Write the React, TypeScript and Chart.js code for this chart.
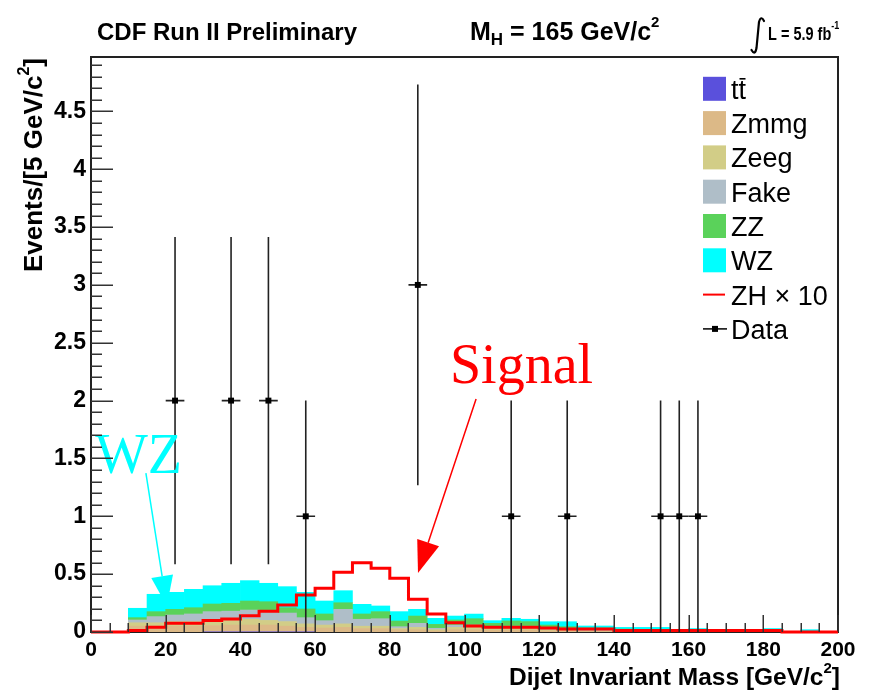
import React, { useEffect, useRef } from "react";
import { Chart, registerables } from "chart.js";

Chart.register(...registerables);

// ---------- data ----------
// centres of the 5 GeV/c^2 bins
const BIN_CENTERS = [
  2.5, 7.5, 12.5, 17.5, 22.5, 27.5, 32.5, 37.5, 42.5, 47.5,
  52.5, 57.5, 62.5, 67.5, 72.5, 77.5, 82.5, 87.5, 92.5, 97.5,
  102.5, 107.5, 112.5, 117.5, 122.5, 127.5, 132.5, 137.5, 142.5, 147.5,
  152.5, 157.5, 162.5, 167.5, 172.5, 177.5, 182.5, 187.5, 192.5, 197.5,
];
// bin edges (for the signal outline)
const BIN_EDGES = [
  0, 5, 10, 15, 20, 25, 30, 35, 40, 45,
  50, 55, 60, 65, 70, 75, 80, 85, 90, 95,
  100, 105, 110, 115, 120, 125, 130, 135, 140, 145,
  150, 155, 160, 165, 170, 175, 180, 185, 190, 195, 200,
];

const TTBAR = [
  0, 0, 0, 0, 0, 0, 0.002, 0.002, 0.002, 0.002,
  0.002, 0.002, 0, 0, 0, 0, 0, 0, 0, 0,
  0, 0, 0, 0, 0, 0, 0, 0, 0, 0,
  0, 0, 0, 0, 0, 0, 0, 0, 0, 0,
];
const ZMMG = [
  0, 0, 0.05, 0.05, 0.05, 0.05, 0.053, 0.058, 0.058, 0.058,
  0.048, 0.038, 0.035, 0.04, 0.03, 0.03, 0.02, 0.02, 0.01, 0.02,
  0.02, 0.015, 0.015, 0.015, 0.01, 0.01, 0.005, 0.005, 0.005, 0.003,
  0.003, 0, 0, 0, 0, 0, 0, 0, 0, 0,
];
const ZEEG = [
  0, 0, 0.03, 0.03, 0.04, 0.04, 0.045, 0.04, 0.05, 0.04,
  0.04, 0.03, 0.025, 0.03, 0.02, 0.02, 0.01, 0.02, 0.01, 0.02,
  0.02, 0.015, 0.015, 0.015, 0.01, 0.01, 0.005, 0.005, 0.005, 0.002,
  0.002, 0, 0, 0, 0, 0, 0, 0, 0, 0,
];
const FAKE = [
  0, 0, 0.024, 0.053, 0.057, 0.066, 0.076, 0.08, 0.08, 0.08,
  0.074, 0.054, 0.038, 0.126, 0.06, 0.065, 0.016, 0.035, 0.012, 0.02,
  0.02, 0.015, 0.02, 0.02, 0.02, 0.01, 0.01, 0.01, 0.005, 0.005,
  0.005, 0, 0.005, 0, 0, 0, 0, 0, 0, 0,
];
const ZZ = [
  0, 0, 0.02, 0.043, 0.049, 0.054, 0.066, 0.068, 0.078, 0.082,
  0.046, 0.075, 0.058, 0.057, 0.046, 0.061, 0.049, 0.063, 0.034, 0.044,
  0.055, 0.03, 0.045, 0.04, 0.02, 0.016, 0.015, 0.015, 0.01, 0.01,
  0.01, 0.005, 0.005, 0, 0, 0, 0.01, 0, 0.005, 0,
];
const WZ = [
  0, 0, 0.081, 0.15, 0.147, 0.159, 0.158, 0.173, 0.176, 0.159,
  0.182, 0.144, 0.112, 0.104, 0.083, 0.049, 0.081, 0.058, 0.052, 0.034,
  0.04, 0.023, 0.023, 0.02, 0.029, 0.043, 0.017, 0.017, 0.015, 0.02,
  0.02, 0.005, 0.02, 0, 0, 0, 0.02, 0, 0.015, 0,
];
const ZH_X10 = [
  0, 0, 0.012, 0.04, 0.075, 0.075, 0.1, 0.112, 0.14, 0.18,
  0.233, 0.32, 0.378, 0.516, 0.599, 0.55, 0.464, 0.283, 0.156, 0.081,
  0.052, 0.04, 0.04, 0.04, 0.035, 0.026, 0.026, 0.026, 0.013, 0.013,
  0.013, 0.013, 0.013, 0.013, 0.013, 0.013, 0.013, 0, 0, 0,
];

const DATA_X = [22.5, 37.5, 47.5, 57.5, 87.5, 112.5, 127.5, 152.5, 157.5, 162.5];
const DATA_Y = [2, 2, 2, 1, 3, 1, 1, 1, 1, 1];
const DATA_ERR = [1.414, 1.414, 1.414, 1, 1.732, 1, 1, 1, 1, 1];

const X_TICKS = [0, 20, 40, 60, 80, 100, 120, 140, 160, 180, 200];
const Y_TICKS = [0, 0.5, 1, 1.5, 2, 2.5, 3, 3.5, 4, 4.5];
const Y_MAX = 4.97;

const STACK = [
  { label: "tt", values: TTBAR, color: "#5a50dc" },
  { label: "Zmmg", values: ZMMG, color: "#dcb987" },
  { label: "Zeeg", values: ZEEG, color: "#d2cd87" },
  { label: "Fake", values: FAKE, color: "#afbec8" },
  { label: "ZZ", values: ZZ, color: "#5ad25a" },
  { label: "WZ", values: WZ, color: "#00ffff" },
];

// ---------- drawing helpers ----------
const SANS = "'Liberation Sans', Arial, Helvetica, sans-serif";
const SERIF = "'Liberation Serif', 'Times New Roman', serif";

type Part = { t: string; size: number; dy?: number };

function drawRich(
  ctx: CanvasRenderingContext2D,
  parts: Part[],
  x: number,
  y: number,
  align: "left" | "right",
  weight: string
) {
  const widths = parts.map((p) => {
    ctx.font = `${weight} ${p.size}px ${SANS}`;
    return ctx.measureText(p.t).width;
  });
  const total = widths.reduce((a, b) => a + b, 0);
  let cx = align === "right" ? x - total : x;
  ctx.textAlign = "left";
  ctx.textBaseline = "alphabetic";
  parts.forEach((p, i) => {
    ctx.font = `${weight} ${p.size}px ${SANS}`;
    ctx.fillText(p.t, cx, y + (p.dy || 0));
    cx += widths[i];
  });
}

function drawArrow(
  ctx: CanvasRenderingContext2D,
  x0: number,
  y0: number,
  x1: number,
  y1: number,
  color: string,
  len: number,
  half: number
) {
  const dx = x1 - x0;
  const dy = y1 - y0;
  const d = Math.hypot(dx, dy);
  const ux = dx / d;
  const uy = dy / d;
  const bx = x1 - ux * len;
  const by = y1 - uy * len;
  ctx.strokeStyle = color;
  ctx.lineWidth = 1.5;
  ctx.beginPath();
  ctx.moveTo(x0, y0);
  ctx.lineTo(bx, by);
  ctx.stroke();
  ctx.fillStyle = color;
  ctx.beginPath();
  ctx.moveTo(x1, y1);
  ctx.lineTo(bx - uy * half, by + ux * half);
  ctx.lineTo(bx + uy * half, by - ux * half);
  ctx.closePath();
  ctx.fill();
}

const DATA_INDEX = STACK.length + 1;

const rootPlugin = {
  id: "rootStyle",
  beforeDatasetsDraw(chart: any) {
    const { ctx, chartArea: a } = chart;
    ctx.save();
    ctx.strokeStyle = "#222";
    ctx.lineWidth = 2;
    ctx.strokeRect(a.left, a.top, a.right - a.left, a.bottom - a.top);
    ctx.restore();
  },
  beforeDatasetDraw(chart: any, args: any) {
    if (args.index !== DATA_INDEX) return;
    const { ctx } = chart;
    const x = chart.scales.x;
    const y = chart.scales.y;
    ctx.save();
    ctx.strokeStyle = "#222";
    ctx.lineWidth = 1.6;
    DATA_X.forEach((xv, i) => {
      const px = x.getPixelForValue(xv);
      const py = y.getPixelForValue(DATA_Y[i]);
      const top = y.getPixelForValue(DATA_Y[i] + DATA_ERR[i]);
      const bot = y.getPixelForValue(Math.max(0, DATA_Y[i] - DATA_ERR[i]));
      ctx.beginPath();
      ctx.moveTo(px, top);
      ctx.lineTo(px, bot);
      ctx.moveTo(x.getPixelForValue(xv - 2.5), py);
      ctx.lineTo(x.getPixelForValue(xv + 2.5), py);
      ctx.stroke();
    });
    ctx.restore();
  },
  afterDatasetsDraw(chart: any) {
    const { ctx, chartArea: a } = chart;
    const x = chart.scales.x;
    const y = chart.scales.y;
    ctx.save();
    // annotations
    ctx.font = `56px ${SERIF}`;
    ctx.textAlign = "left";
    ctx.textBaseline = "alphabetic";
    ctx.fillStyle = "#ff0000";
    ctx.fillText("Signal", x.getPixelForValue(96.1), y.getPixelForValue(2.152));
    drawArrow(
      ctx,
      x.getPixelForValue(103.1),
      y.getPixelForValue(2.014),
      x.getPixelForValue(87.55),
      y.getPixelForValue(0.51),
      "#ff0000",
      32,
      11.5
    );
    ctx.font = `56px ${SERIF}`;
    ctx.fillStyle = "#00ffff";
    ctx.fillText("WZ", x.getPixelForValue(1.07), y.getPixelForValue(1.374));
    drawArrow(
      ctx,
      x.getPixelForValue(14.7),
      y.getPixelForValue(1.374),
      x.getPixelForValue(20.3),
      y.getPixelForValue(0.225),
      "#00ffff",
      30,
      11
    );
    // axis ticks (drawn inside the frame, ROOT style)
    ctx.strokeStyle = "#333";
    ctx.lineWidth = 1.5;
    ctx.beginPath();
    for (let i = 0; i <= 49; i++) {
      const py = Math.round(y.getPixelForValue(i / 10)) + 0.25;
      const len = i % 5 === 0 ? 22 : 11;
      ctx.moveTo(a.left, py);
      ctx.lineTo(a.left + len, py);
    }
    for (let i = 0; i <= 40; i++) {
      const px = Math.round(x.getPixelForValue(i * 5)) + 0.25;
      const len = i % 4 === 0 ? 17 : 9;
      ctx.moveTo(px, a.bottom);
      ctx.lineTo(px, a.bottom - len);
    }
    ctx.stroke();
    ctx.restore();
  },
  afterDraw(chart: any) {
    const { ctx } = chart;
    ctx.save();
    ctx.fillStyle = "#000";
    // header
    drawRich(ctx, [{ t: "CDF Run II Preliminary", size: 24 }], 97, 40, "left", "bold");
    drawRich(
      ctx,
      [
        { t: "M", size: 25 },
        { t: "H", size: 17, dy: 5 },
        { t: " = 165 GeV/c", size: 25 },
        { t: "2", size: 15, dy: -13 },
      ],
      470,
      40,
      "left",
      "bold"
    );
    // integral sign
    ctx.strokeStyle = "#000";
    ctx.lineWidth = 2.2;
    ctx.lineCap = "round";
    ctx.beginPath();
    ctx.moveTo(764, 21);
    ctx.quadraticCurveTo(761, 15, 759, 22);
    ctx.lineTo(756.5, 48);
    ctx.quadraticCurveTo(755, 56, 751.5, 50);
    ctx.stroke();
    ctx.lineCap = "butt";
    ctx.save();
    ctx.translate(768, 40);
    ctx.scale(1, 1.25);
    drawRich(
      ctx,
      [
        { t: "L = 5.9 fb", size: 14.5 },
        { t: "-1", size: 9, dy: -9 },
      ],
      0,
      0,
      "left",
      "bold"
    );
    ctx.restore();

    // axis titles
    drawRich(
      ctx,
      [
        { t: "Dijet Invariant Mass [GeV/c", size: 24.5 },
        { t: "2", size: 15, dy: -12 },
        { t: "]", size: 24.5 },
      ],
      840,
      685,
      "right",
      "bold"
    );
    ctx.save();
    ctx.translate(42, 58);
    ctx.rotate(-Math.PI / 2);
    drawRich(
      ctx,
      [
        { t: "Events/[5 GeV/c", size: 26 },
        { t: "2", size: 16, dy: -13 },
        { t: "]", size: 26 },
      ],
      0,
      0,
      "right",
      "bold"
    );
    ctx.restore();

    // legend
    const boxX = 703;
    const textX = 731;
    const y0 = 88.8;
    const step = 34.3;
    ctx.font = `27px ${SANS}`;
    ctx.textAlign = "left";
    ctx.textBaseline = "alphabetic";
    const entries = [...STACK.map((s) => ({ label: s.label, color: s.color, kind: "box" })),
      { label: "ZH \u00D7 10", color: "#ff0000", kind: "line" },
      { label: "Data", color: "#000", kind: "data" }];
    entries.forEach((e, i) => {
      const cy = y0 + step * i;
      if (e.kind === "box") {
        ctx.fillStyle = e.color;
        ctx.fillRect(boxX, cy - 12, 23, 24);
      } else if (e.kind === "line") {
        ctx.strokeStyle = e.color;
        ctx.lineWidth = 2;
        ctx.beginPath();
        ctx.moveTo(boxX, cy);
        ctx.lineTo(boxX + 22, cy);
        ctx.stroke();
      } else {
        ctx.strokeStyle = "#000";
        ctx.lineWidth = 1.5;
        ctx.beginPath();
        ctx.moveTo(boxX, cy);
        ctx.lineTo(boxX + 24, cy);
        ctx.stroke();
        ctx.fillStyle = "#000";
        ctx.fillRect(boxX + 9, cy - 3, 6, 6);
      }
      ctx.fillStyle = "#000";
      ctx.font = `27px ${SANS}`;
      ctx.fillText(e.label, textX, cy + 10);
      if (i === 0) {
        const wt = ctx.measureText("t").width;
        ctx.strokeStyle = "#000";
        ctx.lineWidth = 1.6;
        ctx.beginPath();
        ctx.moveTo(textX + wt + 1, cy - 10);
        ctx.lineTo(textX + 2 * wt - 0.5, cy - 10);
        ctx.stroke();
      }
    });
    ctx.restore();
  },
};

export default function App() {
  const ref = useRef<HTMLCanvasElement>(null);

  useEffect(() => {
    const canvas = ref.current;
    if (!canvas) return;

    const barSets = STACK.map((s) => ({
      type: "bar" as const,
      label: s.label,
      data: BIN_CENTERS.map((c, i) => ({ x: c, y: s.values[i] > 0 ? s.values[i] : null })),
      backgroundColor: s.color,
      borderWidth: 0,
      barPercentage: 1,
      categoryPercentage: 1,
      stack: "bg",
      order: 3,
    }));

    const chart = new Chart(canvas, {
      type: "bar",
      data: {
        datasets: [
          ...barSets,
          {
            type: "line",
            label: "ZH x 10",
            data: BIN_EDGES.map((e, i) => ({ x: e, y: ZH_X10[Math.min(i, ZH_X10.length - 1)] })),
            borderColor: "#ff0000",
            borderWidth: 3,
            stepped: "before",
            pointRadius: 0,
            fill: false,
            stack: "zh",
            order: 2,
            clip: false,
          },
          {
            type: "line",
            label: "Data",
            data: DATA_X.map((xv, i) => ({ x: xv, y: DATA_Y[i] })),
            showLine: false,
            pointStyle: "rect",
            pointRadius: 4.2,
            pointBackgroundColor: "#000",
            pointBorderColor: "#000",
            pointBorderWidth: 0,
            stack: "data",
            order: 1,
          },
        ] as any,
      },
      options: {
        responsive: false,
        maintainAspectRatio: false,
        devicePixelRatio: 1,
        animation: false,
        events: [],
        layout: { padding: { top: 57, right: 32, left: 0, bottom: 0 } },
        plugins: { legend: { display: false }, tooltip: { enabled: false } },
        scales: {
          x: {
            type: "linear",
            min: 0,
            max: 200,
            offset: false,
            stacked: true,
            grid: { display: false, drawTicks: false, tickLength: 0 },
            border: { display: false },
            afterBuildTicks: (s: any) => {
              s.ticks = X_TICKS.map((v) => ({ value: v }));
            },
            afterFit: (s: any) => {
              s.height = 63;
            },
            ticks: {
              autoSkip: false,
              maxRotation: 0,
              padding: 6,
              color: "#000",
              font: { family: SANS, size: 21, weight: "bold" },
              callback: (v: any) => String(v),
            },
          },
          y: {
            type: "linear",
            min: 0,
            max: Y_MAX,
            stacked: true,
            grid: { display: false, drawTicks: false, tickLength: 0 },
            border: { display: false },
            afterBuildTicks: (s: any) => {
              s.ticks = Y_TICKS.map((v) => ({ value: v }));
            },
            afterFit: (s: any) => {
              s.width = 91;
            },
            ticks: {
              padding: 5,
              color: "#000",
              font: { family: SANS, size: 23, weight: "bold" },
              callback: (v: any) => String(v),
            },
          },
        },
      } as any,
      plugins: [rootPlugin],
    });

    return () => chart.destroy();
  }, []);

  return (
    <div style={{ position: "fixed", left: 0, top: 0, width: 870, height: 695, background: "#fff" }}>
      <canvas ref={ref} width={870} height={695} style={{ display: "block", width: 870, height: 695 }} />
    </div>
  );
}
